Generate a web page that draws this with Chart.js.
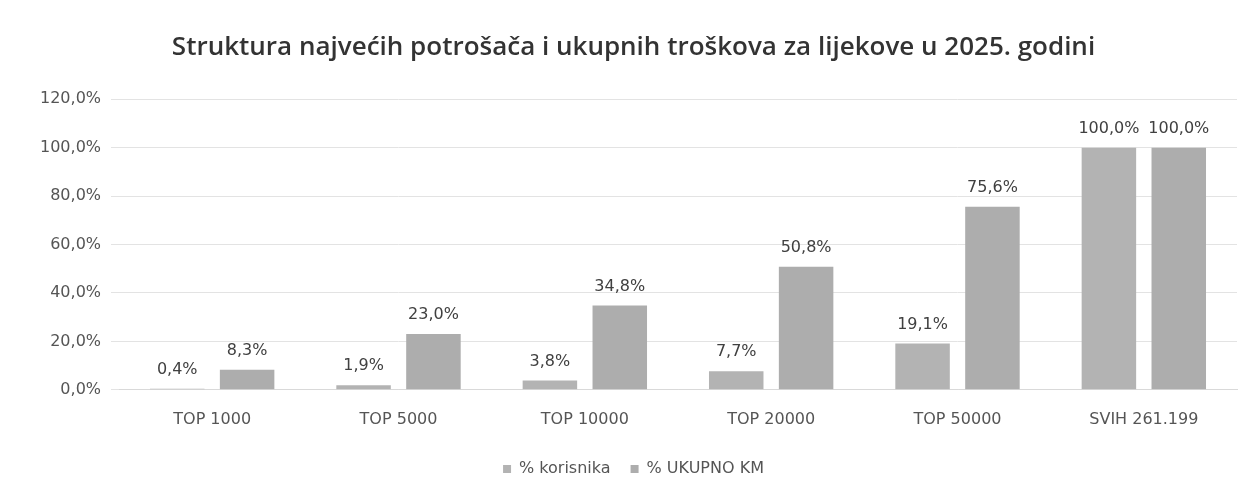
<!DOCTYPE html>
<html>
<head>
<meta charset="utf-8">
<script src="https://cdn.jsdelivr.net/npm/chart.js@4/dist/chart.umd.min.js"></script>
<style>
  html, body { margin: 0; padding: 0; background: #fff; }
  #wrap { width: 1251px; height: 495px; }
</style>
</head>
<body>
<div id="wrap"><canvas id="chart" width="1251" height="495"></canvas></div>
<script>
var categories = ['TOP 1000', 'TOP 5000', 'TOP 10000', 'TOP 20000', 'TOP 50000', 'SVIH 261.199'];
var korisnika = [0.4, 1.9, 3.8, 7.7, 19.1, 100.0];
var ukupnoKM = [8.3, 23.0, 34.8, 50.8, 75.6, 100.0];
var yTicks = [0, 20, 40, 60, 80, 100, 120];

function pct(v) {
    return v.toFixed(1).replace('.', ',') + '%';
}

// draws the value above each bar
var valueLabels = {
    id: 'valueLabels',
    afterDatasetsDraw: function (chart) {
        var ctx = chart.ctx;
        ctx.save();
        ctx.font = '16px "DejaVu Sans"';
        ctx.fillStyle = '#404040';
        ctx.textAlign = 'center';
        ctx.textBaseline = 'bottom';
        chart.data.datasets.forEach(function (ds, i) {
            chart.getDatasetMeta(i).data.forEach(function (bar, j) {
                ctx.fillText(pct(ds.data[j]), bar.x, bar.y - 11);
            });
        });
        ctx.restore();
    }
};

var ctx = document.getElementById('chart').getContext('2d');
new Chart(ctx, {
    type: 'bar',
    data: {
        labels: categories,
        datasets: [{
            label: '% korisnika',
            data: korisnika,
            backgroundColor: '#b3b3b3'
        }, {
            label: '% UKUPNO KM',
            data: ukupnoKM,
            backgroundColor: '#adadad'
        }]
    },
    options: {
        responsive: false,
        animation: false,
        layout: { padding: { left: 30, right: 14, top: 8, bottom: 8 } },
        datasets: {
            bar: { categoryPercentage: 0.75, barPercentage: 0.78 }
        },
        plugins: {
            title: {
                display: true,
                text: 'Struktura najvećih potrošača i ukupnih troškova za lijekove u 2025. godini',
                color: '#333',
                font: { family: '"Open Sans"', size: 26, weight: '600' },
                padding: { top: 24, bottom: 36 }
            },
            legend: {
                position: 'bottom',
                labels: {
                    color: '#555',
                    font: { family: '"DejaVu Sans"', size: 16 },
                    boxWidth: 8,
                    boxHeight: 8,
                    padding: 20
                }
            },
            tooltip: { enabled: false }
        },
        scales: {
            x: {
                grid: { display: false },
                border: { color: '#d9d9d9' },
                ticks: { color: '#555', font: { family: '"DejaVu Sans"', size: 16 }, padding: 12 }
            },
            y: {
                min: 0,
                max: 120,
                afterBuildTicks: function (axis) {
                    axis.ticks = yTicks.map(function (v) { return { value: v }; });
                },
                grid: { color: '#e3e3e3' },
                border: { display: false },
                ticks: {
                    color: '#555',
                    font: { family: '"DejaVu Sans"', size: 16 },
                    padding: 10,
                    callback: function (v) { return pct(v); }
                }
            }
        }
    },
    plugins: [valueLabels]
});
</script>
</body>
</html>
